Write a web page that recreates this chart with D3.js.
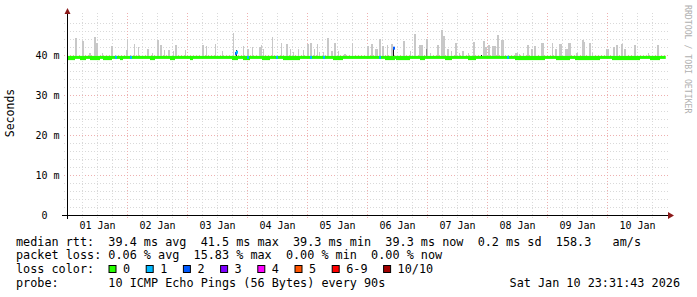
<!DOCTYPE html>
<html>
<head>
<meta charset="utf-8">
<script src="https://cdn.jsdelivr.net/npm/d3@7"></script>
<style>
body { margin: 0; background: #fff; }
svg text { font-family: "DejaVu Sans Mono", monospace; fill: #000; }
</style>
</head>
<body>
<svg id="chart" width="697" height="297"></svg>
<script>
// day labels, ticks placed at noon of each day (hours since 01 Jan 00:00)
const dayLabels = ["01 Jan", "02 Jan", "03 Jan", "04 Jan", "05 Jan", "06 Jan", "07 Jan", "08 Jan", "09 Jan", "10 Jan"];
const yTicks = [0, 10, 20, 30, 40];

// smoke spikes: [hour, max ms, duration h]
const smoke = [
  [3.2, 44.2, 0.8], [6.0, 43.5, 0.8], [6.4, 41.2, 0.4], [8.8, 40.5, 0.8], [10.8, 44.5, 0.8],
  [11.6, 43.0, 0.8], [14.0, 40.5, 0.4], [17.6, 42.2, 0.8], [23.6, 41.2, 0.8], [24.0, 44.0, 0.4],
  [26.8, 42.7, 0.4], [28.4, 42.0, 0.4], [32.0, 41.5, 0.8], [34.0, 40.5, 0.4], [36.0, 43.7, 0.8],
  [37.2, 42.5, 0.8], [38.8, 41.2, 0.4], [40.4, 41.2, 0.8], [42.4, 41.0, 0.4], [43.2, 42.5, 0.8],
  [47.2, 41.2, 0.4], [54.0, 42.5, 0.8], [55.6, 42.2, 0.4], [59.2, 42.8, 0.4], [62.0, 41.0, 0.4],
  [66.4, 45.5, 0.4], [70.4, 42.2, 0.4], [72.0, 41.5, 0.8], [74.0, 42.0, 0.4], [76.8, 42.0, 0.8],
  [77.6, 42.5, 0.4], [78.4, 41.5, 0.4], [82.0, 44.5, 0.4], [85.6, 43.0, 0.4], [87.6, 42.7, 0.8],
  [89.2, 41.5, 0.4], [90.4, 40.8, 0.4], [92.4, 41.5, 0.4], [94.4, 41.2, 0.4], [96.0, 42.8, 0.8],
  [97.2, 43.0, 0.8], [98.8, 41.5, 0.4], [100.0, 42.7, 0.4], [100.8, 40.8, 0.4], [102.4, 40.8, 0.4],
  [104.0, 44.2, 0.8], [105.6, 41.0, 0.8], [106.8, 43.0, 0.8], [108.4, 41.0, 0.4], [110.8, 40.3, 0.8],
  [114.0, 43.0, 0.4], [120.0, 42.3, 0.8], [121.6, 42.8, 0.8], [123.2, 41.5, 1.2], [124.8, 44.0, 0.8],
  [126.0, 42.2, 0.8], [128.0, 42.5, 0.4], [129.6, 42.8, 0.8], [134.4, 43.5, 0.8], [137.2, 41.0, 0.4],
  [138.8, 45.2, 0.8], [140.8, 42.5, 1.6], [143.6, 44.0, 0.8], [145.2, 40.5, 0.4], [148.0, 42.5, 0.8],
  [149.6, 46.2, 0.8], [150.4, 44.7, 0.8], [152.0, 41.5, 0.8], [153.6, 41.0, 0.4], [155.2, 43.0, 0.8],
  [156.8, 40.5, 0.4], [158.0, 41.0, 0.8], [160.4, 40.5, 0.4], [162.4, 43.2, 0.8], [166.4, 43.5, 0.8],
  [167.2, 42.0, 0.8], [168.4, 42.5, 0.8], [170.0, 42.2, 0.8], [170.8, 42.2, 0.8], [172.0, 45.0, 0.8],
  [173.6, 43.7, 1.2], [179.2, 40.5, 1.2], [180.8, 40.3, 0.4], [182.4, 40.5, 0.4], [184.0, 42.5, 0.8],
  [185.6, 41.5, 0.8], [186.8, 42.2, 0.8], [189.6, 43.0, 1.2], [194.0, 43.0, 0.4], [195.2, 41.5, 0.8],
  [196.8, 42.8, 1.2], [199.2, 41.5, 1.2], [200.4, 43.0, 1.2], [203.6, 40.5, 0.8], [206.0, 43.7, 0.8],
  [206.8, 43.2, 0.4], [208.8, 43.0, 0.8], [210.0, 40.5, 0.4], [215.6, 41.5, 1.2], [218.4, 42.0, 0.8],
  [219.6, 42.5, 0.8], [221.6, 42.8, 0.8], [222.8, 41.5, 0.8], [226.8, 42.5, 0.8], [232.4, 40.5, 0.4],
  [236.0, 42.5, 0.8]
];

// darker smoke columns: [hour, from ms, to ms, shade]
const darkSmoke = [[67.6, 39.2, 41.3, "#222"], [130.4, 38.9, 41.6, "#111"], [143.6, 39.3, 41.4, "#888"], [165.6, 39.4, 39.9, "#000"]];

// median rtt: base level and lower stretches [from h, to h, ms]
const medianBase = [[0, 239.5, 39.4]];
const medianDips = [
  [0, 3.2, 39.1], [5.2, 7.6, 39.1], [9.2, 13.2, 39.1], [14.4, 18.0, 39.1], [21.2, 22.4, 39.1],
  [33.2, 35.2, 39.1], [41.2, 43.2, 39.1], [49.2, 50.4, 39.1], [66.0, 68.4, 39.1], [70.4, 73.2, 39.1],
  [78.0, 81.2, 39.1], [86.4, 93.2, 39.1], [106.4, 110.4, 39.1], [127.2, 131.2, 39.1], [131.6, 137.2, 39.1],
  [141.2, 143.2, 39.1], [151.2, 154.0, 39.1], [160.4, 163.6, 39.1], [179.2, 191.2, 39.1], [195.6, 201.2, 39.1],
  [203.2, 213.2, 39.1], [218.0, 229.2, 39.1], [233.2, 237.2, 39.1]
];

// median points with packet loss: [hour, ms, loss class]
const lossPoints = [
  [19.2, 39.4, 1], [25.2, 39.4, 1], [67.2, 40.4, 2], [67.6, 40.7, 1], [72.0, 39.4, 1],
  [83.6, 39.4, 1], [97.2, 39.4, 1], [102.4, 39.4, 1], [124.8, 39.4, 1], [130.4, 41.7, 2],
  [176.0, 39.4, 1]
];

const lossColors = ["#26ff00", "#00b8ff", "#0059ff", "#7e00ff", "#ff00ff", "#ff5500", "#ff0000", "#a10000"];
const lossLabels = ["0", "1", "2", "3", "4", "5", "6-9", "10/10"];

const statsRtt = "median rtt:  39.4 ms avg  41.5 ms max  39.3 ms min  39.3 ms now  0.2 ms sd  158.3   am/s";
const statsLoss = "packet loss: 0.06 % avg  15.83 % max  0.00 % min  0.00 % now";
const probeText = "probe:       10 ICMP Echo Pings (56 Bytes) every 90s";
const stampText = "Sat Jan 10 23:31:43 2026";

const svg = d3.select("#chart");
const x = d3.scaleLinear().domain([0, 240]).range([67, 667]);
const y = d3.scaleLinear().domain([0, 50]).range([215, 15]);

// grid
const grid = svg.append("g");
const hLines = d3.range(2, 50, 2);
grid.selectAll(".h").data(hLines).enter().append("line")
  .attr("x1", 64).attr("x2", 668)
  .attr("y1", d => y(d) + 0.5).attr("y2", d => y(d) + 0.5)
  .attr("stroke", d => d % 10 === 0 ? "#eeb0b0" : "#d9d9d9")
  .attr("stroke-dasharray", "1,2");
const vLines = d3.range(6, 240, 6);
grid.selectAll(".v").data(vLines).enter().append("line")
  .attr("x1", d => Math.round(x(d)) + 0.5).attr("x2", d => Math.round(x(d)) + 0.5)
  .attr("y1", 13).attr("y2", 218)
  .attr("stroke", d => d % 24 === 0 ? "#eeb0b0" : "#d9d9d9")
  .attr("stroke-dasharray", "1,2");

// smoke
svg.append("g").selectAll("rect").data(smoke).enter().append("rect")
  .attr("x", d => Math.round(x(d[0])))
  .attr("width", d => Math.max(1, Math.round(x(d[0] + d[2]) - x(d[0]))))
  .attr("y", d => Math.round(y(d[1])))
  .attr("height", d => Math.round(y(39.3)) - Math.round(y(d[1])))
  .attr("fill", "#c8c8c8");

svg.append("g").selectAll("rect").data(darkSmoke).enter().append("rect")
  .attr("x", d => Math.round(x(d[0])))
  .attr("width", 1)
  .attr("y", d => Math.round(y(d[2])))
  .attr("height", d => Math.round(y(d[1])) - Math.round(y(d[2])))
  .attr("fill", d => d[3]);

// median line
const med = svg.append("g");
med.selectAll(".base").data(medianBase.concat(medianDips)).enter().append("rect")
  .attr("x", d => x(d[0]))
  .attr("width", d => x(d[1]) - x(d[0]))
  .attr("y", d => y(d[2]) - 1.5)
  .attr("height", 3)
  .attr("fill", lossColors[0]);
med.selectAll(".loss").data(lossPoints).enter().append("rect")
  .attr("x", d => Math.round(x(d[0])))
  .attr("width", 2)
  .attr("y", d => y(d[1]) - 1.5)
  .attr("height", 3)
  .attr("fill", d => lossColors[d[2]]);

// axes
const yAxis = svg.append("g").attr("transform", "translate(67,0)")
  .call(d3.axisLeft(y).tickValues(yTicks).tickSize(0).tickFormat(d => d));
yAxis.select(".domain").remove();
yAxis.selectAll("text").attr("x", -19.5).attr("dy", "0.35em")
  .style("font-size", "10px").style("font-family", "'DejaVu Sans Mono', monospace").attr("fill", "#000");
yAxis.selectAll(".tick").filter(d => d > 0).append("text")
  .attr("x", -13.5).attr("dy", "0.35em").attr("text-anchor", "start")
  .style("font-size", "10px").attr("fill", "#000").text("m");

const xAxis = svg.append("g").attr("transform", "translate(0,215)")
  .call(d3.axisBottom(x).tickValues(dayLabels.map((d, i) => 12 + 24 * i)).tickSize(0)
    .tickFormat((d, i) => dayLabels[i]));
xAxis.select(".domain").remove();
xAxis.selectAll("text").attr("y", 14).attr("dy", null)
  .style("font-size", "10px").style("font-family", "'DejaVu Sans Mono', monospace").attr("fill", "#000");

svg.append("line").attr("x1", 62).attr("x2", 669).attr("y1", 215.5).attr("y2", 215.5).attr("stroke", "#000");
svg.append("line").attr("x1", 67.5).attr("x2", 67.5).attr("y1", 219).attr("y2", 13).attr("stroke", "#000");
svg.append("path").attr("d", "M668,212 L674,215.5 L668,219 Z").attr("fill", "#8b1a1a");
svg.append("path").attr("d", "M64.5,14 L67.5,8 L70.5,14 Z").attr("fill", "#8b1a1a");

// side labels
svg.append("text").attr("transform", "translate(14,113) rotate(-90)")
  .attr("text-anchor", "middle").style("font-size", "11.5px").text("Seconds");
svg.append("text").attr("transform", "translate(685,5) rotate(90)")
  .style("font-size", "8.2px").style("fill", "#b0b0b0").text("RRDTOOL / TOBI OETIKER");

// legend
const leg = svg.append("g").style("font-size", "11.8px").attr("xml:space", "preserve");
leg.append("text").attr("x", 16).attr("y", 245.5).style("white-space", "pre").text(statsRtt);
leg.append("text").attr("x", 16).attr("y", 259).style("white-space", "pre").text(statsLoss);
leg.append("text").attr("x", 16).attr("y", 273).style("white-space", "pre").text("loss color:");
leg.append("text").attr("x", 16).attr("y", 286.5).style("white-space", "pre").text(probeText);
leg.append("text").attr("x", 680).attr("y", 286.5).attr("text-anchor", "end").text(stampText);

let lx = 108.5;
lossLabels.forEach((lab, i) => {
  leg.append("rect").attr("x", lx + 0.5).attr("y", 265.5).attr("width", 7).attr("height", 7)
    .attr("fill", lossColors[i]).attr("stroke", "#000");
  leg.append("text").attr("x", lx + 14.5).attr("y", 273).text(lab);
  lx += 14.5 + lab.length * 7.1 + 15.6;
});
</script>
</body>
</html>
